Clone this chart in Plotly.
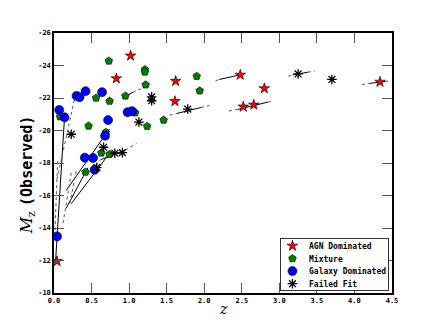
import plotly.graph_objects as go

# AGN dominated (red stars)
agn_z = [0.04, 0.83, 1.02, 1.62, 1.61, 2.48, 2.80, 2.52, 2.66, 4.34]
agn_m = [-11.95, -23.2, -24.6, -23.04, -21.8, -23.42, -22.59, -21.46, -21.58, -22.99]

# Mixture (green pentagons)
mix_z = [0.73, 1.21, 1.21, 1.22, 1.90, 1.94, 0.95, 0.56, 0.74, 0.08, 1.08,
         0.46, 1.24, 1.46, 0.69, 0.63, 0.74, 0.42]
mix_m = [-24.28, -23.75, -23.6, -22.81, -23.34, -22.44, -22.13, -22.0, -21.81,
         -20.85, -21.09, -20.28, -20.26, -20.64, -19.89, -18.62, -18.54, -17.44]

# Galaxy dominated (blue circles)
gal_z = [0.07, 0.14, 0.30, 0.34, 0.42, 0.64, 0.72, 0.98, 1.04, 0.68, 0.41,
         0.52, 0.54, 0.04]
gal_m = [-21.26, -20.81, -22.13, -22.05, -22.42, -22.36, -20.64, -21.13, -21.19,
         -19.68, -18.33, -18.31, -17.58, -13.48]

# Failed fit (asterisks)
fail_z = [0.23, 1.30, 1.30, 1.13, 1.78, 0.66, 0.81, 0.91, 0.57, 3.25, 3.70]
fail_m = [-19.77, -22.07, -21.83, -20.52, -21.32, -18.97, -18.6, -18.64, -17.72,
          -23.48, -23.14]

# fitted tracks: solid part (z0, m0, z1, m1)
solid_tracks = [
    (0.02, -11.9, 0.14, -20.8),
    (0.16, -16.3, 0.74, -20.1),
    (0.23, -15.5, 0.74, -18.6),
    (0.16, -15.2, 0.45, -17.7),
    (0.62, -18.2, 0.95, -18.8),
    (0.95, -22.1, 1.05, -22.35),
    (0.60, -22.2, 0.68, -22.55),
    (1.63, -21.04, 1.96, -21.42),
    (2.20, -23.14, 2.50, -23.45),
    (2.45, -21.30, 2.85, -21.75),
    (3.18, -23.42, 3.38, -23.59),
    (4.20, -22.90, 4.41, -23.02),
]
# dotted extensions
dotted_tracks = [
    (0.01, -13.5, 0.05, -18.3),
    (0.04, -17.0, 0.29, -22.3),
    (0.12, -14.3, 0.23, -17.4),
    (0.21, -15.5, 0.30, -17.6),
    (0.50, -17.6, 0.62, -18.2),
    (0.95, -18.8, 1.10, -19.2),
    (1.05, -22.35, 1.20, -22.65),
    (1.54, -20.95, 1.63, -21.04),
    (1.96, -21.42, 2.07, -21.54),
    (2.15, -23.06, 2.20, -23.14),
    (2.50, -23.45, 2.58, -23.55),
    (2.33, -21.20, 2.45, -21.30),
    (2.85, -21.75, 2.92, -21.83),
    (3.12, -23.34, 3.18, -23.42),
    (3.38, -23.59, 3.47, -23.65),
    (4.10, -22.83, 4.20, -22.90),
    (4.41, -23.02, 4.45, -23.04),
]

labels = ["AGN Dominated", "Mixture", "Galaxy Dominated", "Failed Fit"]
symbols = ["star", "pentagon", "circle", "asterisk-open"]
colors = ["red", "green", "blue", "black"]
sizes = [8, 8, 9, 8]


def seg_xy(tracks):
    xs, ys = [], []
    for z0, m0, z1, m1 in tracks:
        xs += [z0, z1, None]
        ys += [m0, m1, None]
    return xs, ys


fig = go.Figure()

sx, sy = seg_xy(solid_tracks)
fig.add_trace(go.Scatter(x=sx, y=sy, mode="lines", showlegend=False,
                         line=dict(color="black", width=1)))
dx, dy = seg_xy(dotted_tracks)
fig.add_trace(go.Scatter(x=dx, y=dy, mode="lines", showlegend=False,
                         line=dict(color="#555555", width=1, dash="dot")))

for (zz, mm), lab, sym, col, sz in zip([(agn_z, agn_m), (mix_z, mix_m), (gal_z, gal_m), (fail_z, fail_m)],
                                       labels, symbols, colors, sizes):
    lw = 1.3 if sym == "asterisk-open" else 0.6
    fig.add_trace(go.Scatter(x=zz, y=mm, mode="markers", name=lab, showlegend=False,
                             marker=dict(symbol=sym, size=sz, color=col,
                                         line=dict(color="black", width=lw))))

# hand-drawn legend box in its own small subplot (matplotlib-style compact legend)
leg_rows = [0.863, 0.614, 0.367, 0.118]
for lab, sym, col, sz, ry in zip(labels, symbols, colors, sizes, leg_rows):
    lw = 1.3 if sym == "asterisk-open" else 0.6
    fig.add_trace(go.Scatter(x=[0.106], y=[ry], mode="markers", showlegend=False,
                             xaxis="x2", yaxis="y2", hoverinfo="skip",
                             marker=dict(symbol=sym, size=sz, color=col,
                                         line=dict(color="black", width=lw))))
    fig.add_annotation(x=0.246, y=ry, xref="x2", yref="y2", text="<b>%s</b>" % lab,
                       showarrow=False, xanchor="left", yanchor="middle",
                       font=dict(family="DejaVu Sans Mono", size=8, color="black"))

tick_font = dict(family="DejaVu Sans Mono", size=7, color="black")
axis_common = dict(showgrid=False, zeroline=False, showline=True, linecolor="black",
                   linewidth=1.5, mirror="ticks", ticks="inside", ticklen=10,
                   tickcolor="#555555", tickwidth=1, tickfont=tick_font)

xt = [0, 0.5, 1, 1.5, 2, 2.5, 3, 3.5, 4, 4.5]
fig.update_layout(
    xaxis=dict(range=[0, 4.5], tickvals=xt, ticktext=["<b>%.1f</b>" % v for v in xt],
               domain=[0, 1], **axis_common),
    yaxis=dict(range=[-10, -26], tickvals=list(range(-26, -9, 2)),
               ticktext=["<b>%d</b>" % v for v in range(-26, -9, 2)], domain=[0, 1],
               **axis_common),
    xaxis2=dict(domain=[0.672, 0.988], range=[0, 1], anchor="y2", showgrid=False,
                zeroline=False, showticklabels=False, ticks="", showline=True,
                mirror=True, linecolor="#333333", linewidth=1, fixedrange=True),
    yaxis2=dict(domain=[0.0127, 0.208], range=[0, 1], anchor="x2", showgrid=False,
                zeroline=False, showticklabels=False, ticks="", showline=True,
                mirror=True, linecolor="#333333", linewidth=1, fixedrange=True),
    # page body adds an 8px offset, so the figure is a bit smaller than the window
    width=428, height=319,
    margin=dict(l=46, r=44, t=25, b=34),
    paper_bgcolor="white", plot_bgcolor="white",
    showlegend=False,
)
fig.add_annotation(x=0.5, y=0, xref="paper", yref="paper", text="<i>z</i>",
                   showarrow=False, yanchor="top", yshift=-6,
                   font=dict(family="DejaVu Serif", size=14, color="black"))
fig.add_annotation(x=-0.078, y=0.455, xref="paper", yref="paper", textangle=-90,
                   text="<i>M</i><sub>z</sub> <span style=\"font-family:'DejaVu Sans Mono';font-weight:bold;font-size:15px\">(Observed)</span>",
                   showarrow=False, xanchor="center", yanchor="middle",
                   font=dict(family="DejaVu Serif", size=16, color="black"))

fig.write_html("out.html")
